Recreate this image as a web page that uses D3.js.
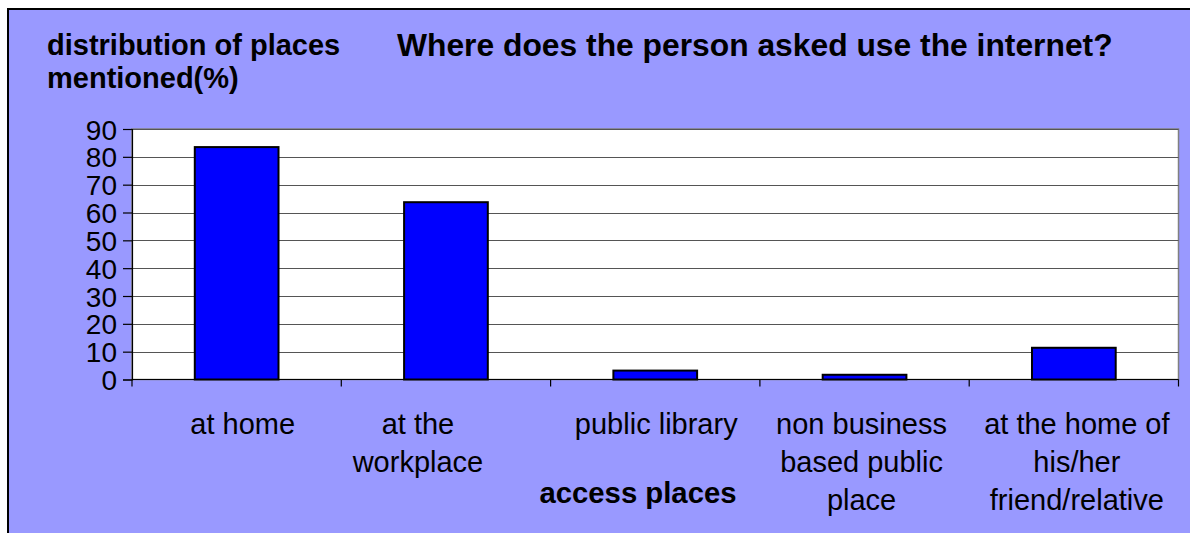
<!DOCTYPE html>
<html>
<head>
<meta charset="utf-8">
<script src="https://cdn.jsdelivr.net/npm/d3@7"></script>
<style>
  html, body { margin: 0; padding: 0; background: #fff; }
  svg { display: block; font-family: "Liberation Sans", Arial, sans-serif; }
</style>
</head>
<body>
<svg id="chart" width="1190" height="533"></svg>
<script>
// Share of respondents naming each place where they use the internet (%)
const categories = [
  ["at home"],
  ["at the", "workplace"],
  ["public library"],
  ["non business", "based public", "place"],
  ["at the home of", "his/her", "friend/relative"]
];
const values = [83.5, 63.7, 3.2, 1.7, 11.4];
const yTicks = [0, 10, 20, 30, 40, 50, 60, 70, 80, 90];
const titleText = "Where does the person asked use the internet?";
const yTitleLines = ["distribution of places", "mentioned(%)"];
const xTitleText = "access places";

// horizontal nudges for the category captions
const labelShift = [6, -28, 1, -3, 3];

const svg = d3.select("#chart");
const plot = { left: 132, right: 1178.5, top: 129, bottom: 379.5 };

// chart background panel
svg.append("rect")
  .attr("x", 8).attr("y", 9)
  .attr("width", 1300).attr("height", 700)
  .attr("fill", "#9999ff")
  .attr("stroke", "#000").attr("stroke-width", 2);

const idx = d3.range(values.length);
const x = d3.scaleBand().domain(idx).range([plot.left, plot.right])
  .paddingInner(0.6).paddingOuter(0.3);
const step = (plot.right - plot.left) / values.length;
const y = d3.scaleLinear().domain([0, 90]).range([plot.bottom, plot.top]);

// plot area
svg.append("rect")
  .attr("x", plot.left).attr("y", plot.top)
  .attr("width", plot.right - plot.left).attr("height", plot.bottom - plot.top)
  .attr("fill", "#fff").attr("stroke", "#808080").attr("stroke-width", 1.5);

// gridlines
svg.append("g").selectAll("line").data(yTicks.filter(t => t > 0)).join("line")
  .attr("x1", plot.left).attr("x2", plot.right)
  .attr("y1", d => Math.round(y(d)) + 0.5).attr("y2", d => Math.round(y(d)) + 0.5)
  .attr("stroke", "#555").attr("stroke-width", 1.2);

// y axis
const yAxis = d3.axisLeft(y).tickValues(yTicks).tickSize(9).tickPadding(6);
const gy = svg.append("g").attr("transform", `translate(${plot.left},0)`).call(yAxis);
gy.select(".domain").attr("stroke", "#000").attr("stroke-width", 1.2);
gy.selectAll(".tick line").attr("stroke", "#000").attr("stroke-width", 1.2);
gy.selectAll(".tick text")
  .attr("font-size", 28).attr("fill", "#000")
  .attr("font-family", "Liberation Sans, Arial, sans-serif")
  .attr("dy", "0.36em");

// x axis baseline with boundary ticks
const boundaries = d3.range(values.length + 1).map(i => plot.left + i * step);
svg.append("line")
  .attr("x1", plot.left).attr("x2", plot.right)
  .attr("y1", plot.bottom).attr("y2", plot.bottom)
  .attr("stroke", "#000").attr("stroke-width", 1.2);
svg.append("g").selectAll("line").data(boundaries).join("line")
  .attr("x1", d => d).attr("x2", d => d)
  .attr("y1", plot.bottom).attr("y2", plot.bottom + 7)
  .attr("stroke", "#000").attr("stroke-width", 1.2);

// bars
svg.append("g").selectAll("rect").data(values).join("rect")
  .attr("x", (d, i) => x(i))
  .attr("y", d => y(d))
  .attr("width", x.bandwidth())
  .attr("height", d => y(0) - y(d))
  .attr("fill", "#0000ff")
  .attr("stroke", "#000").attr("stroke-width", 2);

// category captions
const cap = svg.append("g").selectAll("text").data(categories).join("text")
  .attr("text-anchor", "middle")
  .attr("font-size", 29).attr("fill", "#000")
  .attr("transform", (d, i) => `translate(${x(i) + x.bandwidth() / 2 + labelShift[i]},434)`);
cap.selectAll("tspan").data(d => d).join("tspan")
  .attr("x", 0).attr("y", (d, j) => j * 38).text(d => d);

// axis titles and chart title
svg.append("text")
  .attr("x", 638).attr("y", 503).attr("text-anchor", "middle")
  .attr("font-size", 29.3).attr("font-weight", "bold").text(xTitleText);

svg.append("g").selectAll("text").data(yTitleLines).join("text")
  .attr("x", 47).attr("y", (d, i) => 55 + i * 32.5)
  .attr("font-size", 29).attr("font-weight", "bold").text(d => d);

svg.append("text")
  .attr("x", 397).attr("y", 56)
  .attr("font-size", 31.8).attr("font-weight", "bold").text(titleText);
</script>
</body>
</html>
